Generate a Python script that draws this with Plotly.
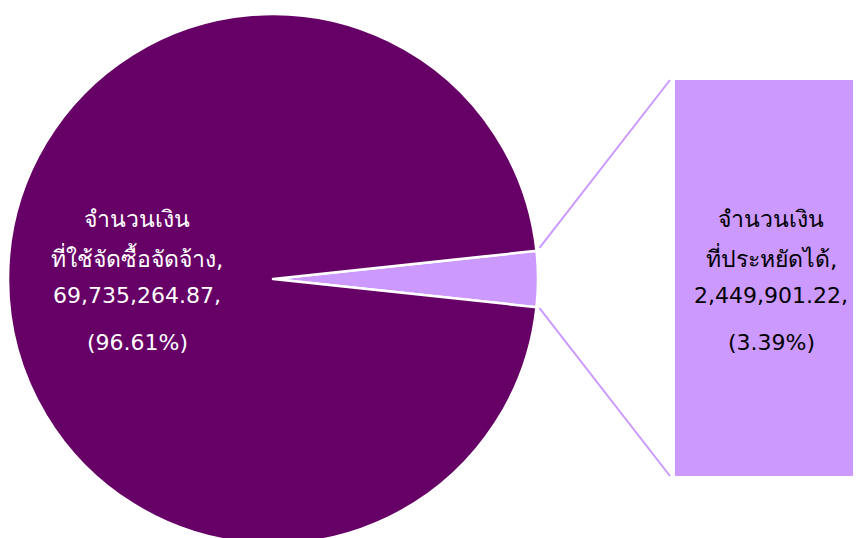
import math
import plotly.graph_objects as go

labels = ["จำนวนเงินที่ประหยัดได้", "จำนวนเงินที่ใช้จัดซื้อจัดจ้าง"]
values = [2449901.22, 69735264.87]
colors = ["#CC99FF", "#660066"]
label_lines = [
    ["จำนวนเงิน", "ที่ประหยัดได้,", "2,449,901.22,", "(3.39%)"],
    ["จำนวนเงิน", "ที่ใช้จัดซื้อจัดจ้าง,", "69,735,264.87,", "(96.61%)"],
]

W, H = 861, 538
off = 8  # page body offset
cx, r = 273 - off, 265
pie_top = 14 - off
cy = pie_top + r
total = sum(values)
half_deg = values[0] / total * 360 / 2

fig = go.Figure()
fig.add_trace(go.Pie(
    labels=labels, values=values, sort=False, direction="clockwise",
    rotation=90 - half_deg,
    marker=dict(colors=colors, line=dict(color="white", width=2.5)),
    textinfo="none", hoverinfo="label+value+percent", showlegend=False,
    domain=dict(x=[(cx - r) / W, (cx + r) / W], y=[1 - (cy + r) / H, 1 - pie_top / H]),
))

bar_left, bar_top, bar_bot = 675 - off, 80 - off, 476 - off
fig.add_trace(go.Bar(
    x=[0], y=[values[0]], width=1, marker=dict(color=colors[0], line=dict(width=0)),
    showlegend=False, hoverinfo="y", xaxis="x", yaxis="y",
))
fig.update_layout(
    xaxis=dict(domain=[bar_left / W, 1], range=[-0.5, 0.5], visible=False, fixedrange=True),
    yaxis=dict(domain=[1 - bar_bot / H, 1 - bar_top / H], range=[0, values[0]], visible=False, fixedrange=True),
)

# connector lines from slice edge to bar corners
ex = cx + r * math.cos(math.radians(half_deg)) + 3
ey_top = cy - r * math.sin(math.radians(half_deg)) - 3
ey_bot = cy + r * math.sin(math.radians(half_deg)) + 1
for (y0, y1) in [(ey_top, bar_top), (ey_bot, bar_bot)]:
    fig.add_shape(type="line", xref="paper", yref="paper",
                  x0=ex / W, y0=1 - y0 / H, x1=(bar_left - 5) / W, y1=1 - y1 / H,
                  line=dict(color=colors[0], width=2))

font_family = "Tahoma, 'DejaVu Sans', 'Noto Sans', sans-serif"
line_ys = [219 - off, 257 - off, 295 - off, 342 - off]
line_sizes = [23, 23, 22, 22]
annos = []
for xc, lines, col in [(771 - off, label_lines[0], "black"), (137 - off, label_lines[1], "white")]:
    for ly, t, fs in zip(line_ys, lines, line_sizes):
        annos.append(dict(x=xc / W, y=1 - ly / H, xref="paper", yref="paper", text=t,
                          showarrow=False, xanchor="center", yanchor="middle",
                          font=dict(size=fs, color=col, family=font_family)))

fig.update_layout(
    width=W, height=H, margin=dict(l=0, r=0, t=0, b=0),
    paper_bgcolor="white", plot_bgcolor="white",
    annotations=annos, bargap=0,
)
fig.write_html("out.html")
